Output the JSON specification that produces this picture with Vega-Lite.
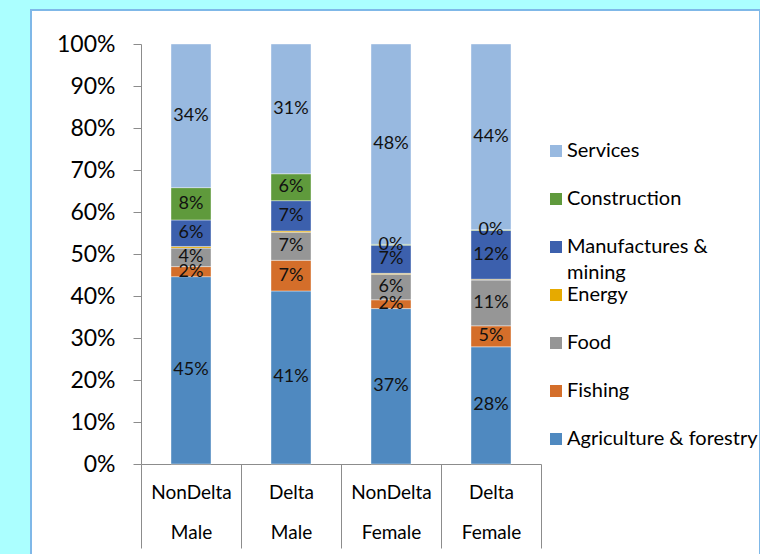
{
  "$schema": "https://vega.github.io/schema/vega-lite/v6.json",
  "width": 729,
  "height": 546,
  "autosize": {"type": "none"},
  "padding": {"left": 31, "top": 10, "right": 0, "bottom": 0},
  "background": "#abffff",
  "config": {
    "view": {"fill": "white", "stroke": "#7fb8e8", "strokeWidth": 2},
    "font": "Lato",
    "style": {"guide-label": {"lineHeight": 26}}
  },
  "data": {
    "values": [
      {"group": "NonDelta Male", "sector": "Agriculture & forestry", "value": 0.446},
      {"group": "NonDelta Male", "sector": "Fishing", "value": 0.024},
      {"group": "NonDelta Male", "sector": "Food", "value": 0.044},
      {"group": "NonDelta Male", "sector": "Energy", "value": 0.004},
      {"group": "NonDelta Male", "sector": "Manufactures & mining", "value": 0.063},
      {"group": "NonDelta Male", "sector": "Construction", "value": 0.077},
      {"group": "NonDelta Male", "sector": "Services", "value": 0.342},
      {"group": "Delta Male", "sector": "Agriculture & forestry", "value": 0.412},
      {"group": "Delta Male", "sector": "Fishing", "value": 0.073},
      {"group": "Delta Male", "sector": "Food", "value": 0.067},
      {"group": "Delta Male", "sector": "Energy", "value": 0.003},
      {"group": "Delta Male", "sector": "Manufactures & mining", "value": 0.072},
      {"group": "Delta Male", "sector": "Construction", "value": 0.064},
      {"group": "Delta Male", "sector": "Services", "value": 0.309},
      {"group": "NonDelta Female", "sector": "Agriculture & forestry", "value": 0.370},
      {"group": "NonDelta Female", "sector": "Fishing", "value": 0.021},
      {"group": "NonDelta Female", "sector": "Food", "value": 0.061},
      {"group": "NonDelta Female", "sector": "Energy", "value": 0.002},
      {"group": "NonDelta Female", "sector": "Manufactures & mining", "value": 0.067},
      {"group": "NonDelta Female", "sector": "Construction", "value": 0.002},
      {"group": "NonDelta Female", "sector": "Services", "value": 0.477},
      {"group": "Delta Female", "sector": "Agriculture & forestry", "value": 0.279},
      {"group": "Delta Female", "sector": "Fishing", "value": 0.050},
      {"group": "Delta Female", "sector": "Food", "value": 0.109},
      {"group": "Delta Female", "sector": "Energy", "value": 0.002},
      {"group": "Delta Female", "sector": "Manufactures & mining", "value": 0.116},
      {"group": "Delta Female", "sector": "Construction", "value": 0.002},
      {"group": "Delta Female", "sector": "Services", "value": 0.442}
    ]
  },
  "transform": [
    {"calculate": "indexof(['Agriculture & forestry','Fishing','Food','Energy','Manufactures & mining','Construction','Services'], datum.sector)", "as": "ord"},
    {"stack": "value", "groupby": ["group"], "sort": [{"field": "ord", "order": "ascending"}], "offset": "normalize", "as": ["v0", "v1"]},
    {"calculate": "(datum.v0 + datum.v1) / 2", "as": "mid"}
  ],
  "encoding": {
    "x": {
      "field": "group",
      "type": "nominal",
      "sort": ["NonDelta Male", "Delta Male", "NonDelta Female", "Delta Female"],
      "scale": {"range": [110, 510], "paddingInner": 0, "paddingOuter": 0},
      "axis": {
        "title": null,
        "orient": "bottom",
        "offset": -92,
        "labelAngle": 0,
        "labelExpr": "split(datum.label, ' ')",
        "labelLineHeight": 40,
        "labelFontSize": 19,
        "labelColor": "#000000",
        "labelBaseline": "top",
        "labelPadding": -65,
        "tickBand": "extent",
        "tickSize": 84,
        "tickColor": "#8c8c8c",
        "domainColor": "#8c8c8c"
      }
    }
  },
  "layer": [
    {
      "mark": {"type": "bar", "width": {"band": 0.4}, "stroke": "#ffffff", "strokeWidth": 0.4},
      "encoding": {
        "y": {
          "field": "v1",
          "type": "quantitative",
          "scale": {"domain": [0, 1], "range": [454, 34], "nice": false},
          "axis": {
            "title": null,
            "format": "%",
            "values": [0, 0.1, 0.2, 0.3, 0.4, 0.5, 0.6, 0.7, 0.8, 0.9, 1],
            "offset": -110,
            "grid": false,
            "tickSize": 8,
            "labelPadding": 18,
            "labelFontSize": 23,
            "labelColor": "#000000",
            "tickColor": "#8c8c8c",
            "domainColor": "#8c8c8c"
          }
        },
        "y2": {"field": "v0"},
        "color": {
          "field": "sector",
          "type": "nominal",
          "scale": {
            "domain": ["Services", "Construction", "Manufactures & mining", "Energy", "Food", "Fishing", "Agriculture & forestry"],
            "range": ["#98b9e0", "#5f9a3c", "#3c60ad", "#e6aa00", "#969696", "#d46e2a", "#4f89c0"]
          },
          "legend": {
            "title": null,
            "orient": "none",
            "legendX": 515,
            "legendY": 131,
            "symbolType": "square",
            "symbolSize": 144,
            "symbolStrokeWidth": 0,
            "labelFontSize": 20,
            "labelColor": "#000000",
            "labelOffset": 1,
            "labelLimit": 300,
            "gridAlign": "all",
            "rowPadding": 2,
            "labelExpr": "datum.label == 'Manufactures & mining' ? ['Manufactures &', 'mining'] : datum.label"
          }
        }
      }
    },
    {
      "transform": [{"filter": "datum.sector != 'Energy'"}],
      "mark": {"type": "text", "fontSize": 18, "color": "#111111"},
      "encoding": {
        "y": {"field": "mid", "type": "quantitative"},
        "text": {"field": "value", "type": "quantitative", "format": ".0%"}
      }
    }
  ]
}
